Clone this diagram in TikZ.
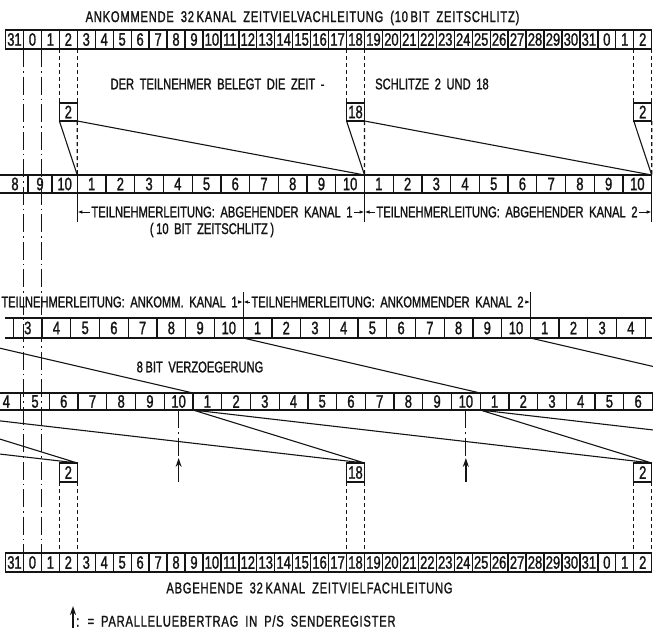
\documentclass[tikz,border=0pt]{standalone}
\usepackage{fontspec}
\usetikzlibrary{arrows.meta,positioning}
\newfontfamily\dinfont[FakeStretch=0.72,FakeBold=1.3,WordSpace=1.8]{Liberation Sans}
\newfontfamily\dinwide[FakeStretch=0.72,FakeBold=1.3,WordSpace=1.8,LetterSpace=5]{Liberation Sans}
\definecolor{ink}{RGB}{20,20,20}

\begin{document}
\begin{tikzpicture}[x=1pt,y=-1pt,
    cell/.style={draw=ink,line width=1.3pt,inner sep=0pt,outer sep=0pt,text=ink,
      minimum height=19pt,font=\dinfont\fontsize{18}{18}\selectfont},
    slot/.style={cell,minimum width=17.95pt},
    bit/.style={cell,minimum width=28.72pt},
    caption/.style={inner sep=1pt,text=ink,font=\dinfont\fontsize{15.5}{16}\selectfont},
    widecaption/.style={caption,font=\dinwide\fontsize{15.5}{16}\selectfont},
    wire/.style={ink,line width=1.1pt},
    guide/.style={ink,line width=1.2pt,dash pattern=on 4pt off 3pt},
    centre/.style={ink,line width=1.1pt,dash pattern=on 18pt off 4pt on 1.5pt off 4pt},
    dim/.style={ink,line width=1pt,-{Latex[length=5pt,width=3.5pt]}},
    upper/.style={ink,line width=1.6pt,-{Stealth[length=9pt,width=6pt]}}]
  \useasboundingbox (0,0) rectangle (653,629);
  \clip (0,0) rectangle (653,629);

  % ankommende und abgehende 32-Kanal-Leitung
  \foreach \n [count=\i from 0] in {31,0,1,...,31,0,1,2}
  {
    \node[slot] (in\i) at (14.475+17.95*\i,39.5) {\n};
    \node[slot] (out\i) at (14.475+17.95*\i,562.5) {\n};
  }
  \node[widecaption] (titlein) at (302.5,18) {ANKOMMENDE 32\,KANAL ZEITVIELVACHLEITUNG (10\,BIT ZEITSCHLITZ)};
  \node[widecaption] (titleout) at (309.5,588) {ABGEHENDE 32\,KANAL ZEITVIELFACHLEITUNG};
  \node[caption] (belegt1) at (217.5,84) {DER TEILNEHMER BELEGT DIE ZEIT -};
  \node[caption,anchor=west] (belegt2) at (374,84) {SCHLITZE 2 UND 18};

  % abgehende Teilnehmerleitung
  \node[cell,minimum width=24pt,minimum height=18pt] (subl9) at (40,184) {9};
  \node[cell,minimum width=25.3pt,minimum height=18pt] (subl10) at (64.65,184) {10};
  \node[cell,draw=none,minimum height=18pt] (subl8) at (15,184) {8};
  \draw[ink,line width=1.3pt] (0,175) -- (subl9.north west) (0,193) -- (subl9.south west);
  \foreach \i in {0,...,19}
  {
    \pgfmathtruncatemacro\n{mod(\i,10)+1}
    \node[bit,minimum height=18pt] (sub\i) at (91.66+28.72*\i,184) {\n};
  }
  \foreach \c in {sub0.south west,sub9.south east,sub19.south east}
    \draw[wire] (\c) -- ++(0,29);
  \node[caption] (ab1) at (222,212) {TEILNEHMERLEITUNG: ABGEHENDER KANAL 1};
  \node[caption] (ab2) at (507,212) {TEILNEHMERLEITUNG: ABGEHENDER KANAL 2};
  \node[caption] (abbit) at (212,230) {(\,10 BIT ZEITSCHLITZ\,)};
  \draw[dim] (ab1.west) -- (sub0.south west |- ab1.west);
  \draw[dim] (ab1.east) -- (sub9.south east |- ab1.east);
  \draw[dim] (ab2.west) -- (sub9.south east |- ab2.west);
  \draw[dim] (ab2.east) -- (sub19.south east |- ab2.east);

  % Zeitschlitze 2 und 18 -> abgehende Kanaele
  \node[slot,minimum height=18pt] (tb2) at (in3 |- 0,112) {2};
  \node[slot,minimum height=18pt] (tb18) at (in19 |- 0,112) {18};
  \node[slot,minimum height=18pt] (tb2r) at (in35 |- 0,112) {2};
  \foreach \s/\b in {3/tb2,19/tb18,35/tb2r}
    \draw[guide] (in\s.south west) -- (\b.north west) (in\s.south east) -- (\b.north east);
  \draw[guide] (tb2.south east) -- (sub0.north west) (tb18.south east) -- (sub9.north east)
    (tb2r.south east) -- (sub19.north east);
  \draw[wire] (tb2.south west) -- (sub0.north west) (tb2.south east) -- (sub9.north east)
    (tb18.south west) -- (sub9.north east) (tb18.south east) -- (sub19.north east)
    (tb2r.south west) -- (sub19.north east);

  % ankommende Teilnehmerleitung
  \foreach \i in {0,...,21}
  {
    \pgfmathtruncatemacro\n{mod(\i+2,10)+1}
    \node[bit,minimum height=20pt] (rx\i) at (27.76+28.72*\i,328) {\n};
  }
  \draw[ink,line width=1.3pt] (5,318) -- (rx0.north west) (5,338) -- (rx0.south west)
    (rx21.north east) -- (652,318) (rx21.south east) -- (652,338);
  \draw[wire] (rx8.north west) -- ++(0,-26) (rx18.north west) -- ++(0,-26);
  \node[caption] (an1) at (119.5,302) {TEILNEHMERLEITUNG: ANKOMM. KANAL 1};
  \node[caption] (an2) at (387.5,302) {TEILNEHMERLEITUNG: ANKOMMENDER KANAL 2};
  \draw[dim] (an1.east) -- (rx8.north west |- an1.east);
  \draw[dim] (an2.west) -- (rx8.north west |- an2.west);
  \draw[dim] (an2.east) -- (rx18.north west |- an2.east);

  % um 8 bit verzoegert
  \foreach \i in {0,...,22}
  {
    \pgfmathtruncatemacro\n{mod(\i+3,10)+1}
    \node[bit,minimum height=17pt] (ry\i) at (6.32+28.72*\i,401.5) {\n};
  }
  \node[caption] (delay) at (200,367) {8\,BIT VERZOEGERUNG};
  \coordinate (rxa) at (-44.04,338);
  \coordinate (rxz) at (767.4,393);
  \draw[wire] (rxa) -- (ry7.north west) (rx8.south west) -- (ry17.north west)
    (rx18.south west) -- (rxz);

  % Zeitschlitze 2 und 18 auf der abgehenden Leitung
  \node[slot] (bb2) at (out3 |- 0,472.5) {2};
  \node[slot] (bb18) at (out19 |- 0,472.5) {18};
  \node[slot] (bb2r) at (out35 |- 0,472.5) {2};
  \foreach \s/\b in {3/bb2,19/bb18,35/bb2r}
    \draw[guide] (\b.south west) -- (out\s.north west) (\b.south east) -- (out\s.north east);
  \coordinate (rya) at (-94.2,410);
  \coordinate (ryz) at (-381.4,410);
  \coordinate (rye) at (939.4,463);
  \draw[wire] (ryz) -- (bb2.north east) (rya) -- (bb2.north east)
    (rya) -- (bb18.north east) (ry7.south west) -- (bb18.north east)
    (ry7.south west) -- (bb2r.north east) (ry17.south west) -- (bb2r.north east)
    (ry17.south west) -- (rye);

  % Paralleluebertrag
  \foreach \c in {ry6,ry16}
  {
    \coordinate (\c top) at (\c.south |- 0,458);
    \coordinate (\c foot) at (\c.south |- 0,482);
    \draw[centre] (\c.south) -- (\c top);
    \draw[upper] (\c foot) -- (\c top);
  }

  % Mittellinien
  \draw[centre] (in0.south east) -- (out0.north east) (in1.south east) -- (out1.north east);

  % Legende
  \coordinate (keyfoot) at (73,628);
  \coordinate (keytop) at (73,606);
  \draw[upper] (keyfoot) -- (keytop);
  \node[widecaption,anchor=west] (key) at (75,621) {: = PARALLELUEBERTRAG IN P/S SENDEREGISTER};
\end{tikzpicture}
\end{document}
